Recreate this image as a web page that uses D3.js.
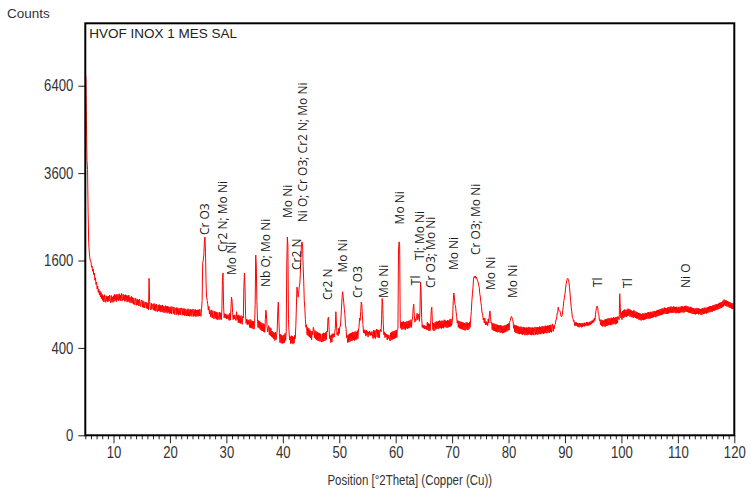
<!DOCTYPE html>
<html>
<head>
<meta charset="utf-8">
<script src="https://cdn.jsdelivr.net/npm/d3@7"></script>
<style>
  html, body { margin: 0; padding: 0; background: #ffffff; }
  svg { display: block; }
</style>
</head>
<body>
<svg id="chart" width="751" height="493"></svg>
<script>
// Scan settings (°2Theta, Cu radiation)
const scanStart = 5.0;
const scanStep = 0.1;

// Measured intensity (counts), one row per degree
const counts = [
  6850, 6700, 5200, 3950, 3700, 2600, 1950, 1760, 1650, 1590,
  1590, 1480, 1500, 1410, 1450, 1350, 1380, 1260, 1300, 1190,
  1230, 1120, 1170, 1070, 1120, 1030, 1090, 1000, 1070, 975,
  1040, 950, 1020, 930, 1035, 960, 925, 1020, 945, 1010,
  930, 1015, 945, 1030, 950, 920, 1025, 935, 1005, 925,
  1020, 940, 1040, 955, 1030, 935, 1045, 960, 1035, 945,
  1050, 960, 1030, 945, 1055, 965, 950, 1045, 960, 1030,
  940, 1035, 950, 1025, 930, 1020, 940, 1030, 925, 1005,
  990, 915, 1010, 920, 995, 900, 985, 915, 890, 985,
  965, 885, 975, 890, 960, 875, 970, 885, 870, 960,
  940, 860, 950, 855, 935, 850, 905, 930, 845, 925,
  835, 915, 825, 1290, 935, 840, 825, 915, 830, 880,
  905, 820, 910, 815, 895, 805, 900, 820, 800, 890,
  810, 895, 805, 885, 795, 880, 800, 890, 790, 875,
  865, 785, 880, 795, 870, 780, 875, 790, 865, 775,
  860, 780, 870, 770, 855, 865, 775, 860, 765, 850,
  845, 760, 855, 770, 850, 755, 840, 765, 850, 760,
  835, 850, 755, 840, 760, 845, 750, 835, 760, 745,
  830, 750, 840, 745, 825, 740, 835, 750, 825, 740,
  820, 835, 740, 825, 745, 830, 735, 820, 745, 825,
  740, 825, 745, 835, 755, 740, 830, 950, 1550, 1600,
  1700, 1950, 2060, 1750, 1200, 1000, 950, 900, 820, 870,
  770, 815, 735, 825, 740, 720, 815, 730, 710, 805,
  720, 800, 705, 795, 700, 790, 715, 700, 795, 705,
  785, 700, 820, 1250, 1380, 880, 725, 775, 720, 770,
  710, 760, 715, 765, 705, 690, 780, 695, 830, 1000,
  960, 790, 700, 755, 710, 760, 705, 690, 800, 700,
  750, 665, 760, 660, 745, 655, 750, 665, 645, 740,
  720, 1150, 1380, 1150, 750, 655, 705, 640, 700, 645,
  695, 610, 705, 605, 690, 600, 685, 595, 680, 590,
  650, 900, 1700, 1500, 950, 720, 610, 690, 600, 680,
  585, 670, 575, 660, 570, 655, 560, 645, 555, 700,
  820, 760, 620, 560, 600, 630, 530, 610, 520, 600,
  510, 570, 500, 560, 485, 550, 470, 555, 480, 525,
  570, 800, 930, 700, 540, 450, 535, 445, 525, 440,
  520, 445, 530, 450, 545, 470, 560, 1500, 2060, 1900,
  700, 560, 475, 510, 440, 520, 445, 515, 435, 505,
  445, 525, 490, 620, 850, 1150, 1100, 1000, 1050, 1150,
  1200, 1350, 1650, 1900, 1960, 1900, 1500, 1250, 950, 850,
  700, 610, 640, 530, 610, 515, 600, 505, 585, 495,
  570, 480, 565, 530, 610, 590, 500, 575, 485, 565,
  475, 560, 470, 550, 465, 545, 460, 540, 475, 455,
  540, 460, 550, 465, 545, 470, 555, 480, 570, 560,
  720, 730, 590, 490, 520, 450, 530, 455, 540, 500,
  540, 505, 555, 600, 800, 660, 530, 560, 520, 600,
  540, 620, 620, 720, 850, 1000, 1080, 1000, 920, 830,
  770, 640, 600, 500, 520, 450, 530, 455, 540, 460,
  545, 465, 550, 470, 560, 475, 555, 470, 565, 480,
  560, 480, 575, 490, 580, 610, 720, 690, 800, 930,
  900, 750, 640, 550, 585, 545, 575, 515, 580, 525,
  565, 505, 560, 530, 570, 520, 555, 525, 565, 515,
  490, 580, 500, 575, 490, 570, 590, 505, 585, 500,
  580, 495, 575, 590, 560, 700, 980, 900, 650, 530,
  560, 500, 545, 505, 535, 475, 530, 490, 525, 485,
  466, 550, 475, 560, 480, 565, 485, 570, 490, 575,
  495, 580, 500, 590, 600, 1800, 1960, 1900, 700, 600,
  670, 585, 675, 590, 680, 595, 670, 580, 675, 600,
  680, 595, 685, 600, 690, 605, 620, 700, 610, 695,
  720, 850, 900, 750, 670, 710, 690, 740, 780, 700,
  720, 770, 680, 800, 1230, 1100, 730, 610, 640, 600,
  635, 595, 630, 590, 625, 585, 670, 580, 655, 570,
  650, 575, 660, 820, 860, 680, 580, 660, 570, 655,
  670, 585, 680, 595, 675, 590, 685, 600, 690, 605,
  680, 595, 690, 605, 685, 600, 700, 615, 690, 610,
  685, 605, 695, 610, 690, 615, 705, 620, 710, 630,
  660, 750, 950, 1060, 1000, 900, 880, 800, 740, 660,
  690, 610, 685, 600, 680, 595, 675, 590, 670, 585,
  665, 580, 660, 575, 655, 670, 585, 665, 580, 660,
  590, 675, 610, 720, 800, 950, 1050, 1150, 1280, 1320,
  1300, 1330, 1290, 1310, 1280, 1250, 1230, 1180, 1150, 1050,
  1000, 920, 870, 780, 780, 700, 720, 660, 720, 640,
  680, 640, 670, 630, 710, 660, 760, 810, 740, 660,
  670, 585, 660, 575, 655, 570, 650, 565, 645, 560,
  640, 555, 635, 560, 630, 550, 635, 555, 630, 545,
  625, 550, 630, 555, 635, 560, 640, 565, 650, 575,
  655, 580, 670, 690, 720, 740, 730, 700, 680, 600,
  640, 560, 635, 550, 630, 545, 625, 540, 620, 535,
  615, 540, 620, 535, 610, 530, 615, 535, 610, 525,
  605, 530, 610, 525, 605, 530, 615, 535, 610, 530,
  605, 525, 610, 530, 605, 525, 600, 615, 530, 610,
  535, 615, 530, 610, 540, 620, 535, 615, 540, 620,
  545, 625, 540, 620, 545, 630, 550, 625, 545, 630,
  555, 630, 550, 635, 560, 640, 555, 630, 650, 565,
  630, 595, 640, 650, 700, 700, 780, 780, 860, 820,
  810, 810, 790, 740, 740, 750, 820, 870, 950, 990,
  1050, 1120, 1200, 1250, 1280, 1290, 1270, 1230, 1150, 1050,
  950, 860, 800, 730, 720, 680, 690, 630, 670, 630,
  670, 625, 660, 615, 655, 610, 660, 620, 655, 610,
  660, 615, 655, 625, 665, 620, 660, 630, 670, 625,
  670, 630, 665, 635, 675, 640, 680, 650, 690, 660,
  700, 670, 720, 690, 760, 820, 860, 875, 850, 780,
  760, 690, 700, 640, 700, 625, 695, 620, 690, 625,
  700, 615, 705, 625, 710, 630, 715, 635, 720, 640,
  715, 635, 725, 640, 720, 645, 730, 650, 725, 645,
  730, 650, 735, 660, 740, 720, 700, 1050, 850, 720,
  790, 700, 810, 720, 820, 730, 830, 740, 820, 735,
  830, 745, 840, 750, 830, 740, 825, 735, 815, 730,
  810, 725, 820, 730, 805, 720, 800, 715, 795, 710,
  785, 700, 780, 695, 775, 690, 770, 700, 780, 695,
  775, 700, 785, 705, 780, 710, 790, 715, 795, 710,
  790, 715, 800, 720, 795, 725, 805, 730, 810, 735,
  805, 730, 815, 740, 820, 745, 825, 750, 830, 755,
  835, 760, 845, 765, 840, 770, 855, 775, 850, 770,
  845, 770, 855, 775, 860, 785, 865, 790, 870, 785,
  860, 785, 870, 790, 865, 785, 860, 780, 865, 790,
  855, 780, 865, 785, 860, 790, 875, 795, 870, 790,
  865, 790, 875, 800, 880, 800, 875, 795, 870, 790,
  860, 785, 865, 780, 855, 775, 850, 770, 845, 770,
  840, 765, 845, 770, 850, 775, 845, 765, 840, 770,
  835, 760, 840, 765, 845, 770, 850, 775, 855, 780,
  850, 775, 860, 785, 865, 790, 870, 795, 875, 800,
  875, 800, 885, 810, 890, 815, 895, 820, 900, 825,
  900, 830, 910, 835, 920, 845, 925, 850, 930, 860,
  950, 870, 965, 885, 955, 875, 950, 870, 945, 865,
  935, 855, 930, 850, 920, 840, 915, 835, 910, 840,
  875
];

// Axis ranges and ticks
const xDomain = [5, 120];
const yDomainMax = 8890;
const xTicks = [10, 20, 30, 40, 50, 60, 70, 80, 90, 100, 110, 120];
const xMinorTicks = d3.range(5, 121, 1).filter(v => v % 10 !== 0);
const yTicks = [0, 400, 1600, 3600, 6400];

// Phase identification: [label, position °2Theta, counts where label starts]
const peakLabels = [
  ["Cr O3", 26.2, 2100],
  ["Cr2 N; Mo Ni", 29.35, 1760],
  ["Mo Ni", 31.0, 1347],
  ["Nb O; Mo Ni", 37.0, 1151],
  ["Mo Ni", 40.8, 2473],
  ["Cr2 N", 42.55, 1430],
  ["Ni O; Cr O3; Cr2 N; Mo Ni", 43.55, 2377],
  ["Cr2 N", 48.0, 959],
  ["Mo Ni", 50.65, 1388],
  ["Cr O3", 53.3, 988],
  ["Mo Ni", 57.9, 988],
  ["Mo Ni", 60.75, 2330],
  ["Tl", 63.5, 1180],
  ["Tl; Mo Ni", 64.3, 1610],
  ["Cr O3; Mo Ni", 66.3, 1137],
  ["Mo Ni", 70.3, 1430],
  ["Cr O3; Mo Ni", 74.2, 1702],
  ["Mo Ni", 76.9, 1106],
  ["Mo Ni", 80.8, 988],
  ["Tl", 95.9, 1151],
  ["Tl", 101.2, 1137],
  ["Ni O", 111.4, 1137]
];

const sampleName = "HVOF INOX 1 MES SAL";
const yAxisTitle = "Counts";
const xAxisTitle = "Position [°2Theta] (Copper (Cu))";

// Layout
const W = 751, H = 493;
const plot = { left: 85.3, right: 734.3, top: 23.3, bottom: 435.3 };
const textFont = '"Liberation Sans", Arial, sans-serif';
const labelFont = '"Open Sans", "Noto Sans", sans-serif';
const narrow = 0.82; // horizontal squeeze for the condensed axis lettering

const svg = d3.select("#chart");

const x = d3.scaleLinear().domain(xDomain).range([plot.left, plot.right]);
const y = d3.scaleSqrt().domain([0, yDomainMax]).range([plot.bottom, plot.top]);

const data = counts.map((c, i) => [scanStart + i * scanStep, c]);

// Clip for the pattern
svg.append("defs").append("clipPath").attr("id", "plotClip")
  .append("rect")
  .attr("x", plot.left).attr("y", plot.top)
  .attr("width", plot.right - plot.left).attr("height", plot.bottom - plot.top);

// Diffraction pattern
const line = d3.line().x(d => x(d[0])).y(d => y(d[1]));
svg.append("path")
  .datum(data)
  .attr("clip-path", "url(#plotClip)")
  .attr("fill", "none")
  .attr("stroke", "#ff0000")
  .attr("stroke-width", 1)
  .attr("stroke-linejoin", "round")
  .attr("d", line);

// Phase labels, rotated to read upward from the peak
const labels = svg.append("g")
  .attr("font-family", labelFont)
  .attr("font-size", 12)
  .attr("fill", "#1a1a1a");
labels.selectAll("text")
  .data(peakLabels)
  .join("text")
  .attr("transform", d => `translate(${x(d[1])},${y(d[2])}) rotate(-90)`)
  .attr("dy", "0.35em")
  .attr("text-anchor", "start")
  .text(d => d[0]);

// Minor x ticks
svg.append("g")
  .attr("transform", `translate(0,${plot.bottom})`)
  .call(d3.axisBottom(x).tickValues(xMinorTicks).tickSize(4).tickFormat(""))
  .call(g => g.select(".domain").remove())
  .call(g => g.selectAll("line").attr("stroke", "#222"));

// Major x ticks
svg.append("g")
  .attr("transform", `translate(0,${plot.bottom})`)
  .call(d3.axisBottom(x).tickValues(xTicks).tickSize(8).tickPadding(3).tickFormat(d3.format("d")))
  .call(g => g.select(".domain").remove())
  .call(g => g.selectAll("line").attr("stroke", "#222"))
  .call(g => g.selectAll("text")
    .attr("font-family", textFont).attr("font-size", 16).attr("fill", "#333")
    .attr("transform", `scale(${narrow},1)`));

// Y ticks
const yTickSize = 7, yTickPad = 5;
svg.append("g")
  .attr("transform", `translate(${plot.left},0)`)
  .call(d3.axisLeft(y).tickValues(yTicks).tickSize(yTickSize).tickPadding(yTickPad).tickFormat(d3.format("d")))
  .call(g => g.select(".domain").remove())
  .call(g => g.selectAll("line").attr("stroke", "#222"))
  .call(g => g.selectAll("text")
    .attr("font-family", textFont).attr("font-size", 16).attr("fill", "#333")
    .attr("x", -(yTickSize + yTickPad) / narrow)
    .attr("transform", `scale(${narrow},1)`));

// Plot frame
svg.append("rect")
  .attr("x", plot.left).attr("y", plot.top)
  .attr("width", plot.right - plot.left).attr("height", plot.bottom - plot.top)
  .attr("fill", "none")
  .attr("stroke", "#000")
  .attr("stroke-width", 2);

// Titles
svg.append("text")
  .attr("x", 7).attr("y", 18)
  .attr("font-family", textFont).attr("font-size", 13.5).attr("fill", "#333")
  .text(yAxisTitle);

svg.append("text")
  .attr("x", plot.left + 4).attr("y", 37.5)
  .attr("font-family", textFont).attr("font-size", 13.5).attr("fill", "#222")
  .text(sampleName);

svg.append("text")
  .attr("transform", `translate(${(plot.left + plot.right) / 2},485) scale(${narrow},1)`)
  .attr("text-anchor", "middle")
  .attr("font-family", textFont).attr("font-size", 14).attr("fill", "#333")
  .text(xAxisTitle);
</script>
</body>
</html>
